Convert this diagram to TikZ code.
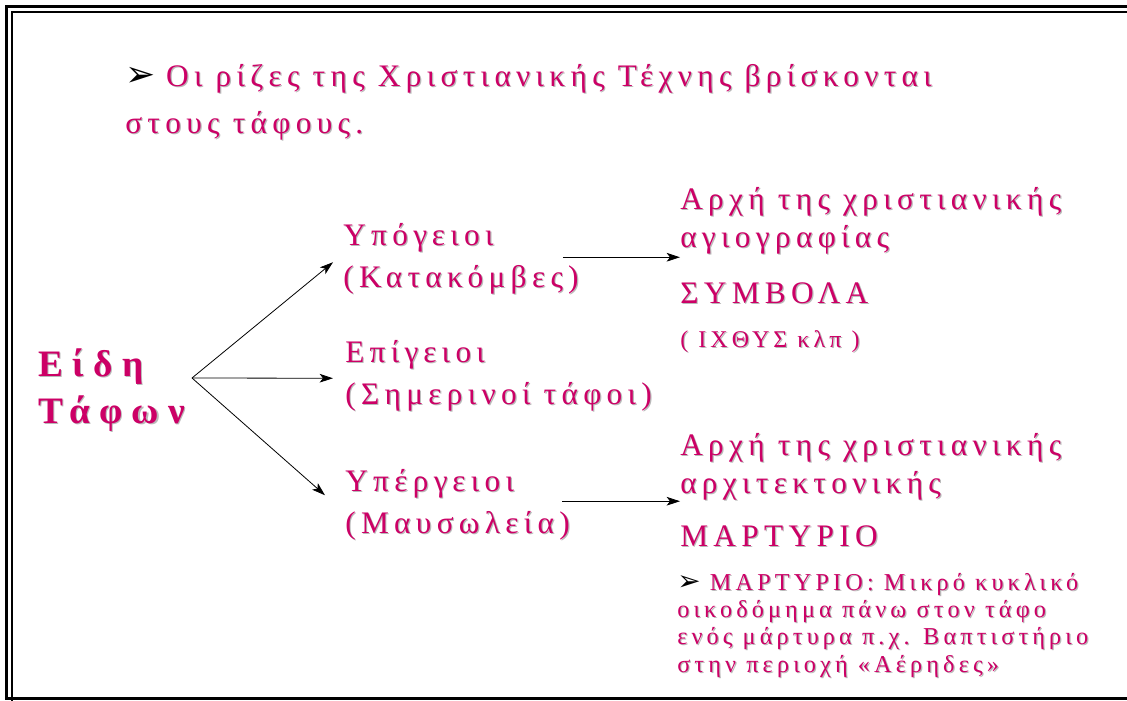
\documentclass[tikz,border=0pt]{standalone}
\usepackage{fontspec}
\usepackage{tikz}
\usetikzlibrary{arrows.meta}
\usetikzlibrary{positioning}
\setmainfont{Liberation Serif}
\newfontfamily\grk[LetterSpace=17]{Liberation Serif}
\newfontfamily\grkbf[LetterSpace=25]{Liberation Serif Bold}
\newfontfamily\sym{DejaVu Sans}
\definecolor{rose}{RGB}{204,0,102}
\definecolor{shade}{RGB}{185,185,185}
\newcommand{\sh}[1]{\makebox[0pt][l]{\kern0.9pt\raisebox{-0.9pt}{\color{shade}#1}}#1}
\newcommand{\bul}{{\sym\color{black}\scalebox{1.15}{➢}}}

\begin{document}
\begin{tikzpicture}[x=0.75pt, y=-0.75pt,
    txt/.style={anchor=base west, inner sep=0pt, align=left, text=rose},
    arr/.style={-{Stealth[length=10pt, width=6.5pt, inset=2.5pt]}, line width=0.6pt}]
    \useasboundingbox (0,0) rectangle (1127,700);
    \begin{scope}
        \clip (0,0) rectangle (1127,700);
        \draw[line width=2.25pt] (6.5,6.5) rectangle (1145,698.5);
        \draw[line width=1.5pt] (12,12) rectangle (1140,710);
    \end{scope}
    \node[txt, font=\grk\fontsize{23.5}{35}\selectfont] (title) at (125,133)
        {\bul\hspace{8pt}\sh{Οι ρίζες της Χριστιανικής Τέχνης βρίσκονται}\\\sh{στους τάφους.}};
    \node[txt, font=\grkbf\fontsize{28}{35}\selectfont] (root) at (38,423) {\sh{Είδη}\\\sh{Τάφων}};
    \coordinate (fork) at (192,378);
    \node[txt, font=\grk\fontsize{23.5}{31}\selectfont] (ypog) at (343,287) {\sh{Υπόγειοι}\\\sh{(Κατακόμβες)}};
    \node[txt, font=\grk\fontsize{23.5}{31}\selectfont] (epig) at (345,404) {\sh{Επίγειοι}\\\sh{(Σημερινοί τάφοι)}};
    \node[txt, font=\grk\fontsize{23.5}{31}\selectfont] (yperg) at (345,533) {\sh{Υπέργειοι}\\\sh{(Μαυσωλεία)}};
    \node[txt, font=\grk\fontsize{23.5}{28}\selectfont] (arxi1) at (680,247) {\sh{Αρχή της χριστιανικής}\\\sh{αγιογραφίας}};
    \node[txt, font=\grk\fontsize{23.5}{30}\selectfont] (symv) at (680,303) {\sh{ΣΥΜΒΟΛΑ}};
    \node[txt, font=\grk\fontsize{18}{20}\selectfont] (ixth) at (680,347) {\sh{( ΙΧΘΥΣ κλπ )}};
    \node[txt, font=\grk\fontsize{23.5}{28}\selectfont] (arxi2) at (680,493) {\sh{Αρχή της χριστιανικής}\\\sh{αρχιτεκτονικής}};
    \node[txt, font=\grk\fontsize{23.5}{30}\selectfont] (mart) at (680,546) {\sh{ΜΑΡΤΥΡΙΟ}};
    \node[txt, font=\grk\fontsize{18.2}{20.5}\selectfont] (para) at (677,672)
        {\bul\hspace{7pt}\sh{ΜΑΡΤΥΡΙΟ: Μικρό κυκλικό}\\\sh{οικοδόμημα πάνω στον τάφο}\\
         \sh{ενός μάρτυρα π.χ. Βαπτιστήριο}\\\sh{στην περιοχή «Αέρηδες»}};
    \draw[arr] (fork) -- ([shift={(-10,3)}]ypog.west);
    \draw[arr] (fork) -- ([shift={(-12,2)}]epig.west);
    \draw[arr] (fork) -- ([shift={(-20,-10)}]yperg.west);
    \draw[arr] ([shift={(-16,-2)}]ypog.east) coordinate (s1) -- (arxi1.west |- s1);
    \draw[arr] ([shift={(-8,-4)}]yperg.east) coordinate (s2) -- (arxi2.west |- s2);
\end{tikzpicture}
\end{document}
